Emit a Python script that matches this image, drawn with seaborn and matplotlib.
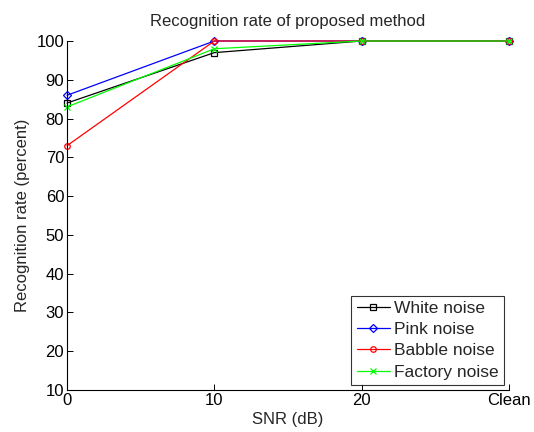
import matplotlib
matplotlib.use("Agg")
import matplotlib.pyplot as plt
import seaborn as sns
import pandas as pd

snr_labels = ["0", "10", "20", "Clean"]
white = [84, 97, 100, 100]
pink = [86, 100, 100, 100]
babble = [73, 100, 100, 100]
factory = [83, 98, 100, 100]
series_names = ["White noise", "Pink noise", "Babble noise", "Factory noise"]
y_ticks = [10, 20, 30, 40, 50, 60, 70, 80, 90, 100]

sns.set_style("white")
plt.rcParams['font.family'] = ['Liberation Sans', 'DejaVu Sans']

fig = plt.figure(figsize=(5.34, 4.32), dpi=100)
ax = fig.add_axes([67/534, 1-390/432, (509-67)/534, (390-41)/432])

colors = ["black", "blue", "red", (0, 1, 0)]
markers = ["s", "D", "o", "x"]
msizes = [4.5, 5, 5.5, 5]

for name, vals, c, m, ms in zip(series_names, [white, pink, babble, factory], colors, markers, msizes):
    d = pd.DataFrame({"x": list(range(len(vals))), "rate": vals})
    sns.lineplot(data=d, x="x", y="rate", color=c, marker=m, linewidth=0.9,
                 markersize=ms, markerfacecolor="none", markeredgecolor=c,
                 markeredgewidth=0.9, label=name, ax=ax, clip_on=False)

FS = 12
ax.set_xlim(0, 3)
ax.set_ylim(10, 100)
ax.set_xticks(range(len(snr_labels)))
ax.set_xticklabels(snr_labels)
ax.set_yticks(y_ticks)
ax.tick_params(direction="in", length=4, width=0.7, labelsize=FS, pad=2,
               top=False, right=False, left=True, bottom=True, colors="black")
for s in ["top", "right"]:
    ax.spines[s].set_visible(False)
for s in ["left", "bottom"]:
    ax.spines[s].set_color("black")
    ax.spines[s].set_linewidth(0.8)

ax.set_xlabel("SNR (dB)", fontsize=FS, labelpad=3)
ax.set_ylabel("Recognition rate (percent)", fontsize=FS, labelpad=5)
ax.set_title("Recognition rate of proposed method", fontsize=FS, pad=11)

handles, labels = ax.get_legend_handles_labels()
for h in handles:
    h.set_markersize(4)
leg = ax.legend(handles, labels, loc="lower right", fontsize=12.5,
                frameon=True, fancybox=False, edgecolor="black",
                borderpad=0.3, labelspacing=0.35, handlelength=1.9,
                handletextpad=0.25, borderaxespad=0.3)
leg.get_frame().set_linewidth(0.8)

fig.savefig("out.png", dpi=100)
